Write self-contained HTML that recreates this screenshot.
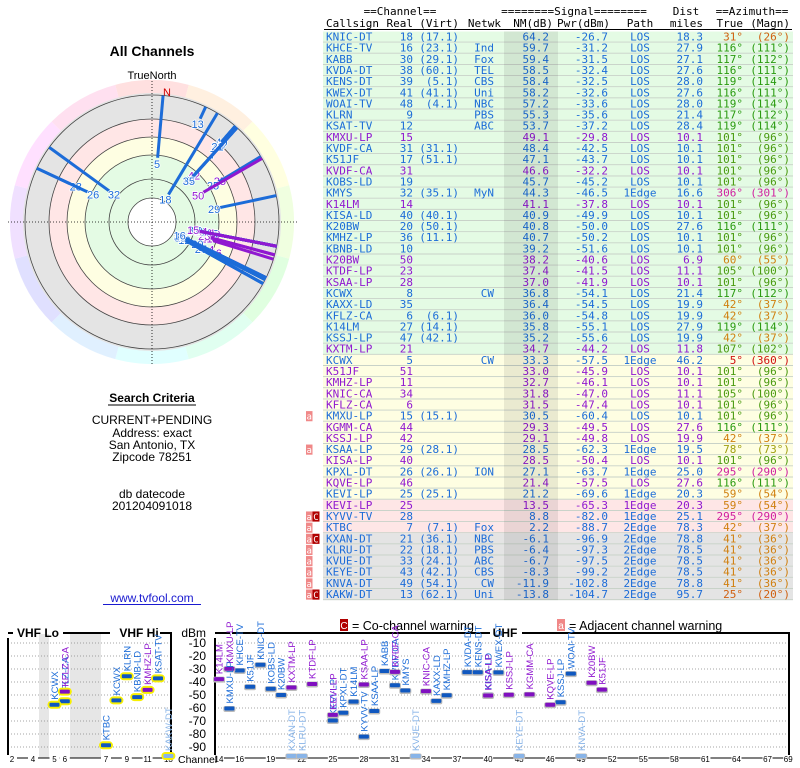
<!DOCTYPE html>
<html><head><meta charset="utf-8"><title>TV Fool - All Channels</title>
<style>
html,body{margin:0;padding:0;background:#fff;width:800px;height:768px;overflow:hidden}
svg{display:block}
.mono{font-family:"DejaVu Sans Mono","Liberation Mono",monospace;font-size:11px}
.sans{font-family:"Liberation Sans","DejaVu Sans",sans-serif}
</style></head>
<body>
<svg id="page" xmlns="http://www.w3.org/2000/svg" width="800" height="768" viewBox="0 0 800 768">
  <g id="left" class="sans">
    <text x="152" y="56" text-anchor="middle" font-size="14" font-weight="bold">All Channels</text>
    <text x="152" y="79" text-anchor="middle" font-size="11">TrueNorth</text>
    <g id="polar"></g>
    <text x="152" y="402" text-anchor="middle" font-size="12" font-weight="bold">Search Criteria</text>
    <line x1="108" y1="405" x2="196" y2="405" stroke="#000" stroke-width="1"/>
    <text x="152" y="424" text-anchor="middle" font-size="12">CURRENT+PENDING</text>
    <text x="152" y="437" text-anchor="middle" font-size="12">Address: exact</text>
    <text x="152" y="449" text-anchor="middle" font-size="12">San Antonio, TX</text>
    <text x="152" y="461" text-anchor="middle" font-size="12">Zipcode 78251</text>
    <text x="152" y="498" text-anchor="middle" font-size="12">db datecode</text>
    <text x="152" y="510" text-anchor="middle" font-size="12">201204091018</text>
    <text x="152" y="602" text-anchor="middle" font-size="12" fill="#1a1ad0">www.tvfool.com</text>
    <line x1="103" y1="604.5" x2="201" y2="604.5" stroke="#1a1ad0" stroke-width="1"/>
  </g>
  <g id="table" class="mono"></g>
  <g id="spectrum"></g>
</svg>
<script>
const callsigns=["KNIC-DT","KHCE-TV","KABB","KVDA-DT","KENS-DT","KWEX-DT","WOAI-TV","KLRN","KSAT-TV","KMXU-LP","KVDF-CA","K51JF","KVDF-CA","KOBS-LD","KMYS","K14LM","KISA-LD","K20BW","KMHZ-LP","KBNB-LD","K20BW","KTDF-LP","KSAA-LP","KCWX","KAXX-LD","KFLZ-CA","K14LM","KSSJ-LP","KXTM-LP","KCWX","K51JF","KMHZ-LP","KNIC-CA","KFLZ-CA","KMXU-LP","KGMM-CA","KSSJ-LP","KSAA-LP","KISA-LP","KPXL-DT","KQVE-LP","KEVI-LP","KEVI-LP","KYVV-TV","KTBC","KXAN-DT","KLRU-DT","KVUE-DT","KEYE-DT","KNVA-DT","KAKW-DT"];
const realCh=[18,16,30,38,39,41,48,9,12,15,31,17,31,19,32,14,40,20,36,10,50,23,28,8,35,6,27,47,21,5,51,11,34,6,15,44,42,29,40,26,46,25,25,28,7,21,22,33,43,49,13];
const virtCh=["(17.1)","(23.1)","(29.1)","(60.1)","(5.1)","(41.1)","(4.1)","","","","(31.1)","(51.1)","","","(35.1)","","(40.1)","(50.1)","(11.1)","","","","","","","(6.1)","(14.1)","(42.1)","","","","","","","(15.1)","","","(28.1)","","(26.1)","","(25.1)","","","(7.1)","(36.1)","(18.1)","(24.1)","(42.1)","(54.1)","(62.1)"];
const netwk=["","Ind","Fox","TEL","CBS","Uni","NBC","PBS","ABC","","","","","","MyN","","","","","","","","","CW","","","","","","CW","","","","","","","","","","ION","","","","","Fox","NBC","PBS","ABC","CBS","CW","Uni"];
const nmDb=[64.2,59.7,59.4,58.5,58.4,58.2,57.2,55.3,53.7,49.1,48.4,47.1,46.6,45.7,44.3,41.1,40.9,40.8,40.7,39.2,38.2,37.4,37.0,36.8,36.4,36.0,35.8,35.2,34.7,33.3,33.0,32.7,31.8,31.5,30.5,29.3,29.1,28.5,28.5,27.1,21.4,21.2,13.5,8.8,2.2,-6.1,-6.4,-6.7,-8.3,-11.9,-13.8];
const pwrDbm=[-26.7,-31.2,-31.5,-32.4,-32.5,-32.6,-33.6,-35.6,-37.2,-29.8,-42.5,-43.7,-32.2,-45.2,-46.5,-37.8,-49.9,-50.0,-50.2,-51.6,-40.6,-41.5,-41.9,-54.1,-54.5,-54.8,-55.1,-55.6,-44.2,-57.5,-45.9,-46.1,-47.0,-47.4,-60.4,-49.5,-49.8,-62.3,-50.4,-63.7,-57.5,-69.6,-65.3,-82.0,-88.7,-96.9,-97.3,-97.5,-99.2,-102.8,-104.7];
const pathType=["LOS","LOS","LOS","LOS","LOS","LOS","LOS","LOS","LOS","LOS","LOS","LOS","LOS","LOS","1Edge","LOS","LOS","LOS","LOS","LOS","LOS","LOS","LOS","LOS","LOS","LOS","LOS","LOS","LOS","1Edge","LOS","LOS","LOS","LOS","LOS","LOS","LOS","1Edge","LOS","1Edge","LOS","1Edge","1Edge","1Edge","2Edge","2Edge","2Edge","2Edge","2Edge","2Edge","2Edge"];
const distMi=[18.3,27.9,27.1,27.6,28.0,27.6,28.0,21.4,28.4,10.1,10.1,10.1,10.1,10.1,16.6,10.1,10.1,27.6,10.1,10.1,6.9,11.1,10.1,21.4,19.9,19.9,27.9,19.9,11.8,46.2,10.1,10.1,11.1,10.1,10.1,27.6,19.9,19.5,10.1,25.0,27.6,20.3,20.3,25.1,78.3,78.8,78.5,78.5,78.5,78.8,95.7];
const azTrue=[31,116,117,116,119,116,119,117,119,101,101,101,101,101,306,101,101,116,101,101,60,105,101,117,42,42,119,42,107,5,101,101,105,101,101,116,42,78,101,295,116,59,59,295,42,41,41,41,41,41,25];
const azMagn=[26,111,112,111,114,111,114,112,114,96,96,96,96,96,301,96,96,111,96,96,55,100,96,112,37,37,114,37,102,360,96,96,100,96,96,111,37,73,96,290,111,54,54,290,37,36,36,36,36,36,20];
const isLP=[0,0,0,0,0,0,0,0,0,1,0,0,1,0,0,1,0,0,0,0,1,1,1,0,0,0,0,0,1,0,1,1,1,1,0,1,1,0,1,0,1,0,1,0,0,0,0,0,0,0,0];
const warnings=["","","","","","","","","","","","","","","","","","","","","","","","","","","","","","","","","","","a","","","a","","","","","","aC","a","aC","a","a","a","a","aC"];
const dbmTicks=[-10,-20,-30,-40,-50,-60,-70,-80,-90];
const vhfChLabels=[2,4,5,6,7,9,11,13];
const uhfChLabels=[14,16,19,22,25,28,31,34,37,40,43,46,49,52,55,58,61,64,67,69];

const NS="http://www.w3.org/2000/svg";
function mk(tag,attrs,parent,txt){const e=document.createElementNS(NS,tag);for(const k in attrs)e.setAttribute(k,attrs[k]);if(txt!==undefined)e.textContent=txt;parent.appendChild(e);return e;}
const BLUE="#1c6cd8",PURPLE="#9018d0";
function azColor(a){if(a>=280)return "#d020a0";if(a<10)return "#d01010";if(a<35)return "#d06010";if(a<70)return "#d08010";if(a<90)return "#a0a010";if(a<110)return "#4a9a10";return "#2a9a10";}
function rowBg(n){if(n>34)return "#e4fbe4";if(n>20)return "#fefee2";if(n>0)return "#fee6e6";return "#e4e4e4";}

// ---------- TABLE ----------
const tbl=document.getElementById('table');
const T0=31.5,RH=11.15;
[['==Channel==',400],['========Signal========',574],['Dist',686],['==Azimuth==',752]].forEach(function(d){
  const t=mk('text',{x:d[1],y:15,'text-anchor':'middle',fill:'#000'},tbl,d[0]);
  
  
});
const heads=[['Callsign',326,'start'],['Real',413,'end'],['(Virt)',459,'end'],['Netwk',501,'end'],['NM(dB)',553,'end'],['Pwr(dBm)',610,'end'],['Path',640,'middle'],['miles',703,'end'],['True',743,'end'],['(Magn)',790,'end']];
heads.forEach(function(d){
  const t=mk('text',{x:d[1],y:27,'text-anchor':d[2]},tbl,d[0]);
  
  
});
mk('line',{x1:324,y1:29.5,x2:792,y2:29.5,stroke:'#000','stroke-width':1},tbl);
callsigns.forEach(function(cs,i){
  const y=T0+i*RH;
  const g=mk('g',{},tbl);
  
  
  mk('rect',{x:323,y:y,width:470,height:RH,fill:rowBg(nmDb[i])},g);
  mk('line',{x1:323,y1:y+RH-0.5,x2:793,y2:y+RH-0.5,stroke:'#c8d2c8','stroke-width':1},g);
  const c=isLP[i]?PURPLE:BLUE, by=y+9;
  mk('text',{x:326,y:by,fill:c},g,cs);
  mk('text',{x:413,y:by,fill:c,'text-anchor':'end'},g,String(realCh[i]));
  if(virtCh[i])mk('text',{x:459,y:by,fill:c,'text-anchor':'end'},g,virtCh[i]);
  if(netwk[i])mk('text',{x:494,y:by,fill:c,'text-anchor':'end'},g,netwk[i]);
  mk('text',{x:549,y:by,fill:c,'text-anchor':'end'},g,nmDb[i].toFixed(1));
  mk('text',{x:608,y:by,fill:c,'text-anchor':'end'},g,pwrDbm[i].toFixed(1));
  mk('text',{x:640,y:by,fill:c,'text-anchor':'middle'},g,pathType[i]);
  mk('text',{x:703,y:by,fill:c,'text-anchor':'end'},g,distMi[i].toFixed(1));
  const ac=azColor(azTrue[i]);
  mk('text',{x:743,y:by,fill:ac,'text-anchor':'end'},g,azTrue[i]+'°');
  mk('text',{x:790,y:by,fill:ac,'text-anchor':'end'},g,'('+azMagn[i]+'°)');
  const w=warnings[i];
  if(w.indexOf('a')>=0){
    const wa=mk('g',{},tbl);
    
    
    mk('rect',{x:306,y:y+0.5,width:6.5,height:RH-1,fill:'#f08888'},wa);
    mk('text',{x:309.2,y:by,fill:'#fff','text-anchor':'middle','font-size':9},wa,'a');
  }
  if(w.indexOf('C')>=0){
    const wc=mk('g',{},tbl);
    
    
    mk('rect',{x:312.5,y:y+0.5,width:7,height:RH-1,fill:'#b00000'},wc);
    mk('text',{x:316,y:by,fill:'#fff','text-anchor':'middle','font-size':9},wc,'C');
  }
});
const sh=mk('rect',{x:504,y:T0,width:54,height:RH*callsigns.length,fill:'#000','fill-opacity':0.08},tbl);



// ---------- POLAR ----------
const pol=document.getElementById('polar');
const CX=152,CY=222;
function pt(r,a){const t=a*Math.PI/180;return [CX+r*Math.sin(t),CY-r*Math.cos(t)];}
for(let k=0;k<12;k++){
  const a0=k*30-15,a1=a0+30,p0=pt(142,a0),p1=pt(142,a1);
  const s=mk('path',{d:'M'+CX+','+CY+' L'+p0[0]+','+p0[1]+' A142,142 0 0 1 '+p1[0]+','+p1[1]+' Z',fill:'hsl('+(k*30)+',100%,94%)'},pol);
  
  
}
[[129,'#e4e4e4'],[103,'#ffe6e6'],[85,'#fefee2'],[67,'#e4fbe4'],[24,'#ffffff']].forEach(function(d){
  const c=mk('circle',{cx:CX,cy:CY,r:d[0],fill:d[1]},pol);
  
  
});
[24,43,67,85,103,127].forEach(function(r){mk('circle',{cx:CX,cy:CY,r:r,fill:'none',stroke:'#444','stroke-width':0.8},pol);});
mk('line',{x1:8,y1:CY,x2:297,y2:CY,stroke:'#000','stroke-width':0.8,'stroke-dasharray':'1,2'},pol);
mk('line',{x1:CX,y1:81,x2:CX,y2:365,stroke:'#000','stroke-width':0.8,'stroke-dasharray':'1,2'},pol);
const nl=mk('text',{x:163,y:96,fill:'#d00000','font-size':11},pol,'N');


function rIn(nm){return Math.min(122,Math.max(28,32+(64.2-nm)*1.05));}
for(let i=callsigns.length-1;i>=0;i--){
  const r0=rIn(nmDb[i]),a=azTrue[i],p0=pt(r0,a),p1=pt(127,a);
  const c=isLP[i]?PURPLE:BLUE;
  const ray=mk('line',{x1:p0[0],y1:p0[1],x2:p1[0],y2:p1[1],stroke:c,'stroke-width':3},pol);
  
  
  const pl=pt(r0-6,a);
  const lb=mk('text',{x:pl[0],y:pl[1]+4,fill:c,'font-size':11,'text-anchor':'middle',stroke:'#fff','stroke-width':1.5,'paint-order':'stroke'},pol,String(realCh[i]));
  
  
}

// ---------- SPECTRUM ----------
const sp=document.getElementById('spectrum');
function yP(p){return Math.min(756,643+(-10-p)*1.3);}
function xCh(ch){
  if(ch<=4)return 12+(ch-2)*10.5;
  if(ch<=6)return 54.5+(ch-5)*10.3;
  if(ch<=13)return 106+(ch-7)*10.4;
  return 219+(ch-14)*10.35;
}
let lg=mk('g',{class:'sans'},sp);


mk('rect',{x:340,y:619,width:8,height:12,fill:'#b00000'},lg);
mk('text',{x:344,y:629,fill:'#fff','font-size':10,'text-anchor':'middle'},lg,'C');
mk('text',{x:352,y:630,'font-size':12.5},lg,'= Co-channel warning');
lg=mk('g',{class:'sans'},sp);


mk('rect',{x:557,y:619,width:8,height:12,fill:'#f08888'},lg);
mk('text',{x:561,y:629,fill:'#fff','font-size':10,'text-anchor':'middle'},lg,'a');
mk('text',{x:569,y:630,'font-size':12.5},lg,'= Adjacent channel warning');
mk('rect',{x:39,y:634,width:10,height:124,fill:'#e6e6e6'},sp);
mk('rect',{x:70,y:634,width:31,height:124,fill:'#e6e6e6'},sp);
dbmTicks.forEach(function(v){
  const y=yP(v);
  mk('line',{x1:8,y1:y,x2:171,y2:y,stroke:'#888','stroke-width':0.8,'stroke-dasharray':'1,2'},sp);
  mk('line',{x1:215,y1:y,x2:789,y2:y,stroke:'#888','stroke-width':0.8,'stroke-dasharray':'1,2'},sp);
  const t=mk('text',{x:206,y:y+4,'text-anchor':'end','font-size':12,class:'sans'},sp,String(v));
  
  
});
let t=mk('text',{x:206,y:637,'text-anchor':'end','font-size':12,class:'sans'},sp,'dBm');


mk('path',{d:'M8,638 V758 M171,758 V633 H160 M8,633 H13 M63,633 H110',fill:'none',stroke:'#000','stroke-width':2},sp);
mk('path',{d:'M215,638 V758 M789,758 V633 H522 M215,633 H230 M232,633 H490',fill:'none',stroke:'#000','stroke-width':2},sp);
mk('line',{x1:8,y1:758,x2:171,y2:758,stroke:'#000','stroke-width':1},sp);
mk('line',{x1:215,y1:758,x2:789,y2:758,stroke:'#000','stroke-width':1},sp);
[['VHF Lo',38],['VHF Hi',139],['UHF',505]].forEach(function(d){
  const b=mk('text',{x:d[1],y:637,'text-anchor':'middle','font-size':12,'font-weight':'bold',class:'sans'},sp,d[0]);
  
  
});
function chLabel(ch){
  const x=xCh(ch);
  mk('rect',{x:x-5,y:755,width:10,height:8,fill:'#fff'},sp);
  const l=mk('text',{x:x,y:762,'text-anchor':'middle','font-size':8,class:'sans'},sp,String(ch));
  
  
}
vhfChLabels.forEach(chLabel);
uhfChLabels.forEach(chLabel);
t=mk('text',{x:178,y:763,'font-size':10.5,class:'sans'},sp,'Channel');


callsigns.forEach(function(cs,i){
  const x=xCh(realCh[i]),y=yP(pwrDbm[i]);
  const weak=nmDb[i]<0;
  const c=weak?'#88b4e8':(isLP[i]?PURPLE:BLUE);
  const g=mk('g',{},sp);
  
  
  if(realCh[i]<=13)mk('rect',{x:x-7,y:y-4,width:14,height:8,rx:4,fill:'#f8f000'},g);
  else mk('rect',{x:x-6,y:y-2.5,width:12,height:6,rx:2,fill:'#bbb'},g);
  mk('rect',{x:x-5,y:y-2,width:10,height:4,rx:1,fill:isLP[i]&&!weak?'#8010c0':(weak?'#88b4e8':'#1058c0')},g);
  mk('text',{transform:'translate('+(x+3.5)+','+(y-5)+') rotate(-90)',fill:c,'font-size':9.5,class:'sans'},g,cs);
});
</script>
</body></html>
